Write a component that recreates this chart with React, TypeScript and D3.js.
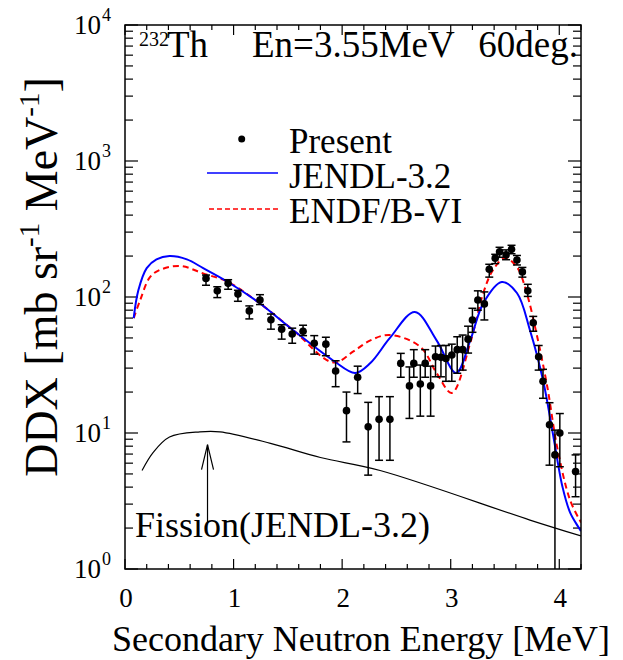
import React from 'react';
import * as d3 from 'd3';

const W = 623;
const H = 660;
const X0 = 125, X1 = 581, Y0 = 569, Y1 = 25;

const xMajorTicks = [0, 1, 2, 3, 4];
const xTickLabels = ['0', '1', '2', '3', '4'];
const yDecades = [1, 10, 100, 1000, 10000];
const yExponents = ['0', '1', '2', '3', '4'];
const legendLabels = ['Present', 'JENDL-3.2', 'ENDF/B-VI'];

// Measured data (Present)
const expE = [0.746, 0.85, 0.95, 1.04, 1.145, 1.243, 1.344, 1.443, 1.54, 1.64, 1.743, 1.85, 1.94, 2.04, 2.143, 2.24, 2.34, 2.44, 2.54, 2.62, 2.66, 2.72, 2.765, 2.815, 2.86, 2.91, 2.956, 3.01, 3.06, 3.11, 3.16, 3.2, 3.25, 3.31, 3.355, 3.41, 3.45, 3.51, 3.56, 3.61, 3.66, 3.71, 3.76, 3.81, 3.85, 3.91, 3.96, 4.005, 4.15];
const expV = [137, 111, 126, 105, 79, 95, 68, 58, 53.5, 56, 45.7, 45, 28.6, 14.6, 25.7, 11.1, 12.6, 12.6, 32.5, 22.2, 32.5, 22.9, 32.5, 22.2, 36.4, 36, 35.3, 37.5, 41, 41, 49, 67.8, 95, 89, 160, 193, 215, 204, 224, 187, 153, 111, 64.7, 36.4, 24, 11.5, 6.9, 10, 5.2];
const expLo = [122, 99, 114, 93, 69, 88, 58, 49, 45.7, 52, 38, 37, 21.9, 8.6, 19.5, 4.9, 6.3, 6.3, 25.7, 12.8, 25.7, 13.3, 25.7, 13.3, 25.9, 25.9, 24, 24, 27.5, 29, 38.7, 55, 80, 67.8, 140, 176, 196, 188, 208, 172, 140, 101, 56, 29, 18, 5.8, 1, 5.65, 3.4];
const expHi = [145, 119, 134, 112, 86, 104, 75, 62.5, 59, 62, 52, 50.6, 34, 20, 31, 16.8, 18.5, 18.5, 38.5, 30.6, 41, 31.6, 41, 31, 43.6, 44, 44, 45, 51, 52.5, 61, 82.6, 111, 109, 174, 206, 232, 222, 240, 202, 165, 124, 72, 44, 29.4, 16.7, 10.5, 13.9, 6.9];

// JENDL-3.2
const jendlE = [0.08, 0.123, 0.2, 0.29, 0.41, 0.57, 0.72, 0.94, 1.24, 1.55, 1.92, 2.12, 2.26, 2.44, 2.67, 2.87, 3.05, 3.18, 3.3, 3.47, 3.61, 3.73, 3.85, 3.94, 4.03, 4.1, 4.2];
const jendlV = [70, 112, 163, 189, 200, 189, 163, 130, 90, 57, 34, 27.6, 32.7, 50, 77.6, 48, 27.6, 48, 90, 129, 107, 57, 24.5, 10, 4.0, 2.6, 1.9];

// ENDF/B-VI
const endfE = [0.08, 0.14, 0.23, 0.32, 0.51, 0.72, 0.94, 1.24, 1.55, 1.92, 2.1, 2.26, 2.44, 2.72, 2.87, 3.01, 3.18, 3.3, 3.39, 3.5, 3.61, 3.7, 3.79, 3.89, 3.98, 4.1, 4.2];
const endfV = [70, 95, 140, 158, 169, 149, 130, 90, 57, 33, 39.6, 48, 52.6, 43, 27.6, 19.7, 46, 107, 158, 194, 166, 107, 54, 21.8, 7.9, 3.2, 2.2];

// Fission (JENDL-3.2)
const fisE = [0.157, 0.26, 0.41, 0.69, 0.875, 1.34, 1.8, 2.35, 3.73, 4.2];
const fisV = [5.3, 7.2, 9.35, 10.2, 10.2, 8.4, 6.6, 5.3, 2.29, 1.75];

const arrowE = 0.76;
const arrowTipV = 8.2;
const arrowBaseV = 2.2;

const FONT = "'Liberation Serif', 'Times New Roman', Tinos, 'Nimbus Roman', FreeSerif, 'Noto Serif', 'DejaVu Serif', Times, serif";

export default function App() {
  const x = d3.scaleLinear().domain([0, 4.2]).range([X0, X1]);
  const y = d3.scaleLog().domain([1, 10000]).range([Y0, Y1]);

  const line = d3.line<[number, number]>()
    .x(d => x(d[0]))
    .y(d => y(d[1]))
    .curve(d3.curveCatmullRom.alpha(0.5));

  const jendl = jendlE.map((e, i) => [e, jendlV[i]] as [number, number]);
  const endf = endfE.map((e, i) => [e, endfV[i]] as [number, number]);
  const fis = fisE.map((e, i) => [e, fisV[i]] as [number, number]);

  const xMinor = d3.range(0, 4.21, 0.2).filter(v => Math.abs(v - Math.round(v)) > 1e-6);
  const yMinor: number[] = [];
  for (let d = 0; d < 4; d++) for (let k = 2; k <= 9; k++) yMinor.push(k * Math.pow(10, d));

  const tickStroke = { stroke: '#000', strokeWidth: 1.2 };
  const cap = 4;
  const ts = { fontFamily: FONT };

  return (
    <svg width={W} height={H} style={{ display: 'block', position: 'absolute', left: 0, top: 0 }}>
      <rect x={0} y={0} width={W} height={H} fill="#fff" />
      <defs>
        <clipPath id="plotClip">
          <rect x={X0} y={Y1} width={X1 - X0} height={Y0 - Y1} />
        </clipPath>
      </defs>

      {/* ticks */}
      {xMajorTicks.map(t => (
        <g key={'xm' + t}>
          <line x1={x(t)} x2={x(t)} y1={Y0} y2={Y0 - 10} {...tickStroke} />
          <line x1={x(t)} x2={x(t)} y1={Y1} y2={Y1 + 10} {...tickStroke} />
        </g>
      ))}
      {xMinor.map(t => (
        <g key={'xn' + t}>
          <line x1={x(t)} x2={x(t)} y1={Y0} y2={Y0 - 5} {...tickStroke} />
          <line x1={x(t)} x2={x(t)} y1={Y1} y2={Y1 + 5} {...tickStroke} />
        </g>
      ))}
      {yDecades.map(t => (
        <g key={'ym' + t}>
          <line x1={X0} x2={X0 + 13} y1={y(t)} y2={y(t)} {...tickStroke} />
          <line x1={X1} x2={X1 - 13} y1={y(t)} y2={y(t)} {...tickStroke} />
        </g>
      ))}
      {yMinor.map(t => (
        <g key={'yn' + t}>
          <line x1={X0} x2={X0 + 8} y1={y(t)} y2={y(t)} {...tickStroke} />
          <line x1={X1} x2={X1 - 8} y1={y(t)} y2={y(t)} {...tickStroke} />
        </g>
      ))}

      {/* tick labels */}
      {xMajorTicks.map((t, i) => (
        <text key={'xl' + t} style={ts} x={x(t) + 1} y={607} fontSize={27} textAnchor="middle">{xTickLabels[i]}</text>
      ))}
      {yDecades.map((t, i) => (
        <text key={'yl' + t} style={ts} x={101} y={y(t) + 9} fontSize={27} textAnchor="end">
          10
          <tspan x={102} dy={-13} fontSize={18} textAnchor="start">{yExponents[i]}</tspan>
        </text>
      ))}

      {/* curves */}
      <g clipPath="url(#plotClip)">
        <path d={line(fis) || ''} fill="none" stroke="#000" strokeWidth={1.2} />
        <path d={line(endf) || ''} fill="none" stroke="#ff0000" strokeWidth={2} strokeDasharray="6,4" />
        <path d={line(jendl) || ''} fill="none" stroke="#0000ff" strokeWidth={2} />
      </g>

      {/* data */}
      <g>
        {expE.map((e, i) => {
          const cx = x(e);
          const yHi = y(expHi[i]);
          const yLo = y(Math.max(expLo[i], 1));
          return (
            <g key={'p' + i}>
              <line x1={cx} x2={cx} y1={yHi} y2={yLo} stroke="#000" strokeWidth={1.5} />
              <line x1={cx - cap} x2={cx + cap} y1={yHi} y2={yHi} stroke="#000" strokeWidth={1.5} />
              {expLo[i] > 1 && <line x1={cx - cap} x2={cx + cap} y1={yLo} y2={yLo} stroke="#000" strokeWidth={1.5} />}
              <circle cx={cx} cy={y(expV[i])} r={3.8} fill="#000" />
            </g>
          );
        })}
      </g>

      {/* frame */}
      <rect x={X0} y={Y1} width={X1 - X0} height={Y0 - Y1} fill="none" stroke="#000" strokeWidth={1.5} />

      {/* arrow */}
      <line x1={x(arrowE)} x2={x(arrowE)} y1={y(arrowTipV)} y2={y(arrowBaseV)} stroke="#000" strokeWidth={1.2} />
      <polyline points={`${x(arrowE) - 6},${y(arrowTipV) + 25} ${x(arrowE)},${y(arrowTipV)} ${x(arrowE) + 6},${y(arrowTipV) + 25}`} fill="none" stroke="#000" strokeWidth={1.2} />
      <text style={ts} x={135} y={537} fontSize={36}>Fission(JENDL-3.2)</text>

      {/* title */}
      <text style={ts} x={139} y={57} fontSize={37}>
        <tspan fontSize={20} dy={-11}>232</tspan>
        <tspan x={167} dy={11}>Th</tspan>
      </text>
      <text style={ts} x={252} y={57} fontSize={37}>En=3.55MeV</text>
      <text style={ts} x={578} y={57} fontSize={37} textAnchor="end">60deg.</text>

      {/* legend */}
      <circle cx={241.7} cy={139} r={3.5} fill="#000" />
      <line x1={207} x2={278} y1={173} y2={173} stroke="#0000ff" strokeWidth={1.5} />
      <line x1={209} x2={278} y1={209} y2={209} stroke="#ff0000" strokeWidth={1.5} strokeDasharray="5,3" />
      <text style={ts} x={289} y={153} fontSize={35}>
        {legendLabels.map((l, i) => (
          <tspan key={l} x={289} dy={i === 0 ? 0 : 35}>{l}</tspan>
        ))}
      </text>

      {/* axis titles */}
      <text style={ts} x={361} y={651} fontSize={36} textAnchor="middle">Secondary Neutron Energy [MeV]</text>
      <text style={ts} transform="translate(57,277) rotate(-90)" fontSize={46} textAnchor="middle">
        DDX [mb sr<tspan dy={-18} fontSize={29}>-1</tspan><tspan dy={18}> MeV</tspan><tspan dy={-18} fontSize={29}>-1</tspan><tspan dy={18}>]</tspan>
      </text>
    </svg>
  );
}
